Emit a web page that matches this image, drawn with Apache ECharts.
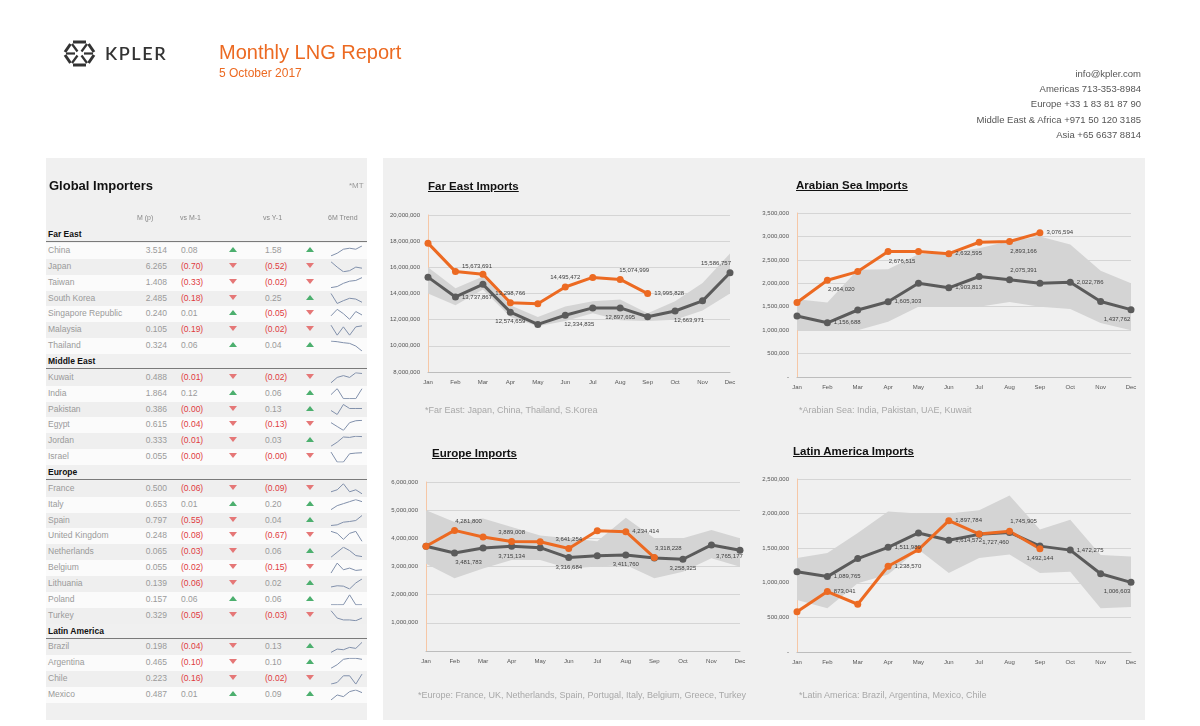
<!DOCTYPE html>
<html>
<head>
<meta charset="utf-8">
<script src="https://cdn.jsdelivr.net/npm/echarts@6/dist/echarts.min.js"></script>
<style>
body{margin:0;width:1200px;height:726px;background:#fff;font-family:"Liberation Sans",Arial,sans-serif;position:relative;overflow:hidden}
.panel{position:absolute;background:#f0f0f0;z-index:0}
#chart{position:absolute;left:0;top:0;width:1200px;height:726px;z-index:1}
.t{position:absolute;z-index:2;white-space:nowrap}
.row{position:absolute;left:46px;width:321px;height:15.86px;z-index:0}
.row span{position:absolute;top:0;line-height:15.86px;font-size:8.5px;color:#9a9a9a}
.row .neg{color:#e03a3e}
.row .hdr{color:#111;font-weight:bold}
.up,.down{position:absolute;width:0;height:0;border-left:4px solid transparent;border-right:4px solid transparent}
.up{border-bottom:5px solid #4caf6e;top:4px}
.down{border-top:5px solid #e57777;top:4px}
.title{font-weight:bold;font-size:11.5px;color:#111;text-decoration:underline}
.note{font-size:9px;color:#a8a8a8}
</style>
</head>
<body>
<div class="panel" style="left:46px;top:158px;width:321px;height:562px"></div>
<div class="panel" style="left:383px;top:158px;width:762px;height:562px"></div>
<div id="rows"></div>
<div id="chart"></div>

<svg class="t" style="left:62px;top:40px" width="35" height="27" viewBox="0 0 35 27">
  <g stroke="#333" stroke-width="3" stroke-linecap="butt" fill="none">
    <line x1="11" y1="2" x2="24" y2="2"/>
    <line x1="26.5" y1="4" x2="32" y2="12"/>
    <line x1="32" y1="15" x2="26.5" y2="23"/>
    <line x1="24" y1="25" x2="11" y2="25"/>
    <line x1="8.5" y1="23" x2="3" y2="15"/>
    <line x1="3" y1="12" x2="8.5" y2="4"/>
  </g>
  <g stroke="#333" stroke-width="2.2" fill="none">
    <line x1="10" y1="4" x2="15.5" y2="11.5"/>
    <line x1="25" y1="4" x2="19.5" y2="11.5"/>
    <line x1="10" y1="23" x2="15.5" y2="15.5"/>
    <line x1="25" y1="23" x2="19.5" y2="15.5"/>
    <line x1="4" y1="13.5" x2="13" y2="13.5"/>
    <line x1="22" y1="13.5" x2="31" y2="13.5"/>
  </g>
</svg>
<div class="t" style="left:105px;top:42px;font-family:Lato,sans-serif;font-weight:600;font-size:18px;letter-spacing:1.6px;color:#333">KPLER</div>
<div class="t" style="left:219px;top:41px;font-size:20px;color:#ec6a22">Monthly LNG Report</div>
<div class="t" style="left:219px;top:66px;font-size:12px;color:#ec6a22">5 October 2017</div>
<div class="t" style="right:59px;top:66px;font-size:9.5px;line-height:15.2px;color:#555;text-align:right">
info@kpler.com<br>Americas 713-353-8984<br>Europe +33 1 83 81 87 90<br>Middle East &amp; Africa +971 50 120 3185<br>Asia +65 6637 8814
</div>

<div class="t" style="left:49px;top:178px;font-size:13px;font-weight:bold;color:#111">Global Importers</div>
<div class="t" style="left:349px;top:181px;font-size:8px;color:#999">*MT</div>
<div class="t" style="left:137px;top:214px;font-size:7px;color:#888">M (p)</div>
<div class="t" style="left:180px;top:214px;font-size:7px;color:#888">vs M-1</div>
<div class="t" style="left:263px;top:214px;font-size:7px;color:#888">vs Y-1</div>
<div class="t" style="left:328px;top:214px;font-size:7px;color:#888">6M Trend</div>

<div class="t title" style="left:428px;top:180px">Far East Imports</div>
<div class="t title" style="left:796px;top:179px">Arabian Sea Imports</div>
<div class="t title" style="left:432px;top:447px">Europe Imports</div>
<div class="t title" style="left:793px;top:445px">Latin America Imports</div>
<div class="t note" style="left:425px;top:405px">*Far East: Japan, China, Thailand, S.Korea</div>
<div class="t note" style="left:799px;top:405px">*Arabian Sea: India, Pakistan, UAE, Kuwait</div>
<div class="t note" style="left:418px;top:690px">*Europe: France, UK, Netherlands, Spain, Portugal, Italy, Belgium, Greece, Turkey</div>
<div class="t note" style="left:799px;top:690px">*Latin America: Brazil, Argentina, Mexico, Chile</div>

<script>
// ---- data ----
const months = ['Jan','Feb','Mar','Apr','May','Jun','Jul','Aug','Sep','Oct','Nov','Dec'];

const fe2017 = [17850000, 15673691, 15480000, 13298766, 13220000, 14495472, 15230000, 15074999, 13995828];
const feAvg  = [15250000, 13737867, 14700000, 12574659, 11640000, 12334835, 12900000, 12897695, 12220000, 12663971, 13440000, 15586757];
const feLow  = [14000000, 13100000, 14300000, 12200000, 11500000, 11900000, 12500000, 11950000, 11900000, 12000000, 12700000, 14000000];
const feHigh = [16000000, 14400000, 15300000, 13100000, 12200000, 13000000, 13400000, 13550000, 12500000, 13400000, 14800000, 17050000];

const as2017 = [1590000, 2064020, 2250000, 2676515, 2680000, 2632595, 2876000, 2893166, 3076594];
const asAvg  = [1300000, 1156688, 1430000, 1605303, 2000000, 1903813, 2145000, 2075391, 2000000, 2022786, 1610000, 1437762];
const asLow  = [1000000, 1000000, 1000000, 1180000, 1500000, 1500000, 1500000, 1600000, 1500000, 1450000, 1150000, 1000000];
const asHigh = [1660000, 1590000, 2290000, 2300000, 2620000, 2650000, 2750000, 2900000, 3000000, 2830000, 2270000, 2000000];

const eu2017 = [3720000, 4281800, 4050000, 3889008, 3880000, 3641254, 4270000, 4234414, 3318228];
const euAvg  = [3720000, 3481783, 3660000, 3715134, 3670000, 3316684, 3380000, 3411760, 3300000, 3258325, 3765177, 3580000];
const euLow  = [3100000, 2580000, 2930000, 3230000, 3230000, 2930000, 3000000, 3050000, 2580000, 2810000, 3290000, 2990000];
const euHigh = [5000000, 4580000, 4700000, 4400000, 4100000, 4000000, 3900000, 4730000, 4000000, 4000000, 4300000, 4000000];

const la2017 = [580000, 873041, 690000, 1238570, 1480000, 1897784, 1705000, 1745905, 1492144];
const laAvg  = [1160000, 1089765, 1350000, 1511989, 1720000, 1614572, 1700000, 1727460, 1530000, 1472275, 1130000, 1006603];
const laLow  = [750000, 633000, 995000, 1120000, 1480000, 1140000, 1360000, 1410000, 1140000, 1160000, 633000, 650000];
const laHigh = [1360000, 1430000, 1720000, 2030000, 2000000, 2000000, 2050000, 2260000, 1770000, 1910000, 1400000, 1380000];

const regionNames = ['Far East', 'Middle East', 'Europe', 'Latin America'];
const regionSizes = [7, 6, 9, 4];
const countries = ['China','Japan','Taiwan','South Korea','Singapore Republic','Malaysia','Thailand',
  'Kuwait','India','Pakistan','Egypt','Jordan','Israel',
  'France','Italy','Spain','United Kingdom','Netherlands','Belgium','Lithuania','Poland','Turkey',
  'Brazil','Argentina','Chile','Mexico'];
const monthMt = [3.514,6.265,1.408,2.485,0.240,0.105,0.324, 0.488,1.864,0.386,0.615,0.333,0.055,
  0.500,0.653,0.797,0.248,0.065,0.055,0.139,0.157,0.329, 0.198,0.465,0.223,0.487];
const vsM1 = [0.08,-0.70,-0.33,-0.18,0.01,-0.19,0.06, -0.01,0.12,-0.004,-0.04,-0.01,-0.004,
  -0.06,0.01,-0.55,-0.08,-0.03,-0.02,-0.06,0.06,-0.05, -0.04,-0.10,-0.16,0.01];
const vsY1 = [1.58,-0.52,-0.02,0.25,-0.05,-0.02,0.04, -0.02,0.06,0.13,-0.13,0.03,-0.004,
  -0.09,0.20,0.04,-0.67,0.06,-0.15,0.02,0.06,-0.03, 0.13,0.10,-0.02,0.09];
const trends = [
  [1,1.8,3,3.3,3,4], [4,2.5,1.2,1.5,2.5,2.2], [1,1.3,2.2,2.8,3,3.8], [4,1.5,2.2,2.8,2.6,1.8],
  [2,3.5,2.5,1.2,3,2.2], [4,1,3.5,1,3.5,3.8], [4,3.8,3.5,3.3,2.5,1],
  [1,2.5,3,2.5,3.8,3.6], [2,3.5,1,1,1,3.5], [2,1,3.5,2.5,2.5,2.5], [3,2,1,3,3.5,3.6],
  [1,2,3.3,3.2,3.5,3.4], [4,1,1,3.5,3.7,3.8],
  [2,2.5,4,2,2.5,1.5], [1,2,2.5,3,3.5,3], [1,1.2,2,2.2,2.5,4], [3.5,3,1.5,3,3.5,1],
  [1,2.5,4,3,1.5,1.2], [1,4,2,2.5,1.8,2], [2,2.3,2.2,1.5,3,4], [1.5,1.5,1.5,4,1.5,1.5], [4,2,1.5,1.5,1.3,2],
  [1,2,1.8,2.5,2.2,4], [1,2,3.5,3.8,3.8,3.5], [1,1.5,3.5,3.5,1,4], [1,2.5,2,3.5,4,3.2]
];

// ---- table ----
const ROW_TOP = 227.1, ROW_H = 15.86;
const rowsEl = document.getElementById('rows');
const sparkCenters = [];
let r = 0, c = 0;
function fmt(v) { return v < 0 ? '(' + Math.abs(v).toFixed(2) + ')' : v.toFixed(2); }
regionNames.forEach((name, g) => {
  const h = document.createElement('div');
  h.className = 'row';
  h.style.top = (ROW_TOP + r * ROW_H) + 'px';
  h.style.borderBottom = '1.5px solid #7a7a7a';
  h.style.height = (ROW_H - 1.5) + 'px';
  h.innerHTML = '<span class="hdr" style="left:2px">' + name + '</span>';
  rowsEl.appendChild(h);
  r++;
  for (let k = 0; k < regionSizes[g]; k++, c++, r++) {
    const d = document.createElement('div');
    d.className = 'row';
    d.style.top = (ROW_TOP + r * ROW_H) + 'px';
    const white = (g === 0) ? (k % 2 === 0) : (k % 2 === 1);
    d.style.background = white ? '#fbfbfb' : '#efefef';
    d.innerHTML =
      '<span style="left:2px">' + countries[c] + '</span>' +
      '<span style="left:71px;width:50px;text-align:right">' + monthMt[c].toFixed(3) + '</span>' +
      '<span class="' + (vsM1[c] < 0 ? 'neg' : '') + '" style="left:135px">' + fmt(vsM1[c]) + '</span>' +
      '<i class="' + (vsM1[c] < 0 ? 'down' : 'up') + '" style="left:183px"></i>' +
      '<span class="' + (vsY1[c] < 0 ? 'neg' : '') + '" style="left:219px">' + fmt(vsY1[c]) + '</span>' +
      '<i class="' + (vsY1[c] < 0 ? 'down' : 'up') + '" style="left:260px"></i>';
    rowsEl.appendChild(d);
    sparkCenters.push(ROW_TOP + r * ROW_H + ROW_H / 2);
  }
});

// ---- charts ----
const POS = {
  r: {position: 'right'}, t: {position: 'top'}, b: {position: 'bottom'},
  tr: {position: 'top', offset: [14, 0]}, br: {position: 'bottom', offset: [14, 0]},
  bl: {position: 'bottom', offset: [-14, 0]}, tl: {position: 'top', offset: [-14, 0]},
  ru: {position: 'right', offset: [0, -5]},
  nbr: {position: 'bottom', offset: [18, 2]}
};
const panels = [
  {grid: {left: 428, top: 215, width: 302, height: 157}, min: 8000000, max: 20000000, step: 2000000, zero: '',
   cur: fe2017, avg: feAvg, low: feLow, high: feHigh,
   curLab: {1: 'ru', 3: 't', 5: 't', 7: 'tr', 8: 'r'}, avgLab: {1: 'r', 3: 'b', 5: 'br', 7: 'b', 9: 'br', 11: 'tl'}},
  {grid: {left: 797, top: 213, width: 334, height: 164}, min: 0, max: 3500000, step: 500000, zero: '-',
   cur: as2017, avg: asAvg, low: asLow, high: asHigh,
   curLab: {1: 'br', 3: 'br', 5: 'r', 7: 'br', 8: 'r'}, avgLab: {1: 'r', 3: 'r', 5: 'r', 7: 'tr', 9: 'r', 11: 'bl'}},
  {grid: {left: 426, top: 482, width: 314, height: 169}, min: 0, max: 6000000, step: 1000000, zero: '',
   cur: eu2017, avg: euAvg, low: euLow, high: euHigh,
   curLab: {1: 'tr', 3: 't', 5: 't', 7: 'r', 8: 'tr'}, avgLab: {1: 'br', 3: 'b', 5: 'b', 7: 'b', 9: 'b', 10: 'nbr'}},
  {grid: {left: 797, top: 479, width: 334, height: 173}, min: 0, max: 2500000, step: 500000, zero: '-',
   cur: la2017, avg: laAvg, low: laLow, high: laHigh,
   curLab: {1: 'r', 3: 'r', 5: 'r', 7: 'tr', 8: 'b'}, avgLab: {1: 'r', 3: 'r', 5: 'r', 7: 'bl', 9: 'r', 11: 'bl'}}
];

const ORANGE = '#ec6a22', GREY = '#5b5b5b';
const grid = [], xAxis = [], yAxis = [], series = [];
const labelBase = {
  show: true, fontSize: 6, color: '#404040', distance: 3,
  fontFamily: 'Liberation Sans Narrow, Liberation Sans, sans-serif',
  formatter: p => Number(p.value).toLocaleString('en-US')
};
function withLabels(arr, spec) {
  return arr.map((v, k) => spec[k] ? {value: v, label: Object.assign({}, labelBase, POS[spec[k]])} : v);
}

panels.forEach((p, i) => {
  grid.push(p.grid);
  xAxis.push({
    type: 'category', gridIndex: i, data: months, boundaryGap: false,
    axisLine: {lineStyle: {color: '#bdbdbd'}}, axisTick: {show: false},
    axisLabel: {fontSize: 6, color: '#555', margin: 7}
  });
  yAxis.push({
    type: 'value', gridIndex: i, min: p.min, max: p.max, interval: p.step,
    axisLine: {show: true, lineStyle: {color: '#f6c7a6'}},
    axisLabel: {fontSize: 6, color: '#555', margin: 8,
      formatter: v => v === 0 ? p.zero : v.toLocaleString('en-US')},
    splitLine: {lineStyle: {color: '#d5d5d5'}}
  });
  series.push({
    type: 'line', xAxisIndex: i, yAxisIndex: i, stack: 'band' + i, data: p.low,
    symbol: 'none', lineStyle: {width: 0, opacity: 0}, silent: true
  });
  series.push({
    type: 'line', xAxisIndex: i, yAxisIndex: i, stack: 'band' + i,
    data: p.high.map((h, k) => h - p.low[k]),
    symbol: 'none', lineStyle: {width: 0, opacity: 0}, areaStyle: {color: '#d4d4d4', opacity: 1}, silent: true
  });
  series.push({
    type: 'line', xAxisIndex: i, yAxisIndex: i, data: withLabels(p.avg, p.avgLab),
    symbol: 'circle', symbolSize: 7, color: GREY,
    lineStyle: {color: GREY, width: 3}, itemStyle: {color: GREY}
  });
  series.push({
    type: 'line', xAxisIndex: i, yAxisIndex: i, data: withLabels(p.cur, p.curLab),
    symbol: 'circle', symbolSize: 7, color: ORANGE,
    lineStyle: {color: ORANGE, width: 3}, itemStyle: {color: ORANGE}
  });
});

// sparklines
trends.forEach((t, j) => {
  const gi = grid.length;
  grid.push({left: 331, top: sparkCenters[j] - 5, width: 31, height: 10});
  xAxis.push({type: 'category', gridIndex: gi, show: false, boundaryGap: false, data: [0, 1, 2, 3, 4, 5]});
  yAxis.push({type: 'value', gridIndex: gi, show: false, min: 'dataMin', max: 'dataMax'});
  series.push({
    type: 'line', xAxisIndex: gi, yAxisIndex: gi, data: t, symbol: 'none',
    lineStyle: {color: '#8190ab', width: 1}, silent: true
  });
});

const myChart = echarts.init(document.getElementById('chart'));
myChart.setOption({animation: false, grid, xAxis, yAxis, series});
</script>
</body>
</html>
